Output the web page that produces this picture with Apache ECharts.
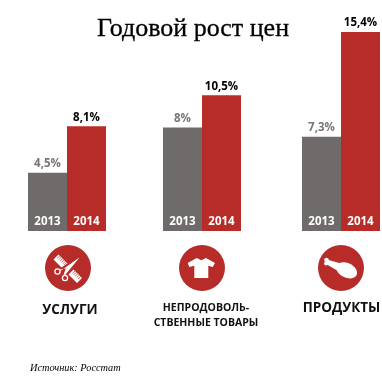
<!DOCTYPE html>
<html>
<head>
<meta charset="utf-8">
<style>html,body{margin:0;padding:0;background:#fff}#chart{width:382px;height:383px}</style>
<script src="https://cdn.jsdelivr.net/npm/echarts@6/dist/echarts.min.js"></script>
</head>
<body>
<div id="chart"></div>
<script>
var years = ['2013', '2014'];
var uslugi = [4.5, 8.1];
var tovary = [8, 10.5];
var produkty = [7.3, 15.4];
var labels = ['4,5%', '8,1%', '8%', '10,5%', '7,3%', '15,4%'];

var groups = [uslugi, tovary, produkty];
var lefts = [28, 163, 302];
var gray = '#6f6b6a';
var red = '#b72c28';
var font = '"Open Sans", sans-serif';

var chart = echarts.init(document.getElementById('chart'));

var grids = [], xAxes = [], yAxes = [], series = [];
groups.forEach(function (values, g) {
    grids.push({ left: lefts[g], top: 32, width: 78, height: 199 });
    xAxes.push({
        type: 'category',
        gridIndex: g,
        data: years,
        z: 5,
        axisLine: { show: false },
        axisTick: { show: false },
        axisLabel: { inside: true, color: '#fff', fontFamily: font, fontWeight: 'bold', fontSize: 11.5, margin: 3 }
    });
    yAxes.push({ type: 'value', gridIndex: g, min: 0, max: 15.4, show: false });
    series.push({
        type: 'bar',
        xAxisIndex: g,
        yAxisIndex: g,
        barWidth: 39,
        silent: true,
        data: values.map(function (v, i) {
            return {
                value: v,
                itemStyle: { color: i == 0 ? gray : red },
                label: {
                    show: true,
                    position: 'top',
                    distance: 3,
                    formatter: labels[g * 2 + i],
                    fontFamily: font,
                    fontSize: 11.5,
                    fontWeight: 'bold',
                    color: i == 0 ? '#7a7675' : '#000'
                }
            };
        })
    });
});

function badge(cx) {
    return { type: 'circle', shape: { cx: cx, cy: 268, r: 23 }, style: { fill: red } };
}
function caption(x, y, text, size) {
    return {
        type: 'text', x: x, y: y,
        style: { text: text, fill: '#111', font: 'bold ' + size + 'px ' + font, textAlign: 'center', textVerticalAlign: 'middle', lineHeight: 15 }
    };
}
function stroke(x1, y1, x2, y2, width, color) {
    return { type: 'line', shape: { x1: x1, y1: y1, x2: x2, y2: y2 }, style: { stroke: color, lineWidth: width } };
}
function poly(points) {
    return { type: 'polygon', shape: { points: points }, style: { fill: '#fff' } };
}
function ring(cx, cy) {
    return { type: 'circle', shape: { cx: cx, cy: cy, r: 2.6 }, style: { fill: 'none', stroke: '#fff', lineWidth: 1.3 } };
}

// расчёска: сплошная полоса, зубцы прорезаны красным
function comb(x1, y1, x2, y2) {
    var out = [stroke(x1, y1, x2, y2, 7, '#fff')];
    var n = Math.round(Math.hypot(x2 - x1, y2 - y1) / 2);
    for (var i = 1; i < n; i++) {
        var x = x1 + (x2 - x1) * i / n, y = y1 + (y2 - y1) * i / n;
        out.push(stroke(x, y, x + 2.6, y - 2.6, 0.7, red));
    }
    return out;
}

var scissors = [].concat(
    comb(56, 257, 65.5, 266.5),
    comb(71, 272, 79.5, 280.5),
    [
        stroke(79.5, 257.5, 61, 270, 3.4, red),
        stroke(79.5, 257.5, 64, 274, 3.4, red),
        poly([[79.5, 257.5], [66, 268.5], [60, 269.5], [60.5, 271]]),
        poly([[79.5, 257.5], [66.5, 267], [63.5, 274.5], [65.2, 275]]),
        ring(57.5, 271.5),
        ring(65, 278)
    ]
);

var shirt = poly([
    [196.7, 258], [201.3, 260.3], [206, 258], [215, 263], [212.7, 267], [208.3, 265.7],
    [208.3, 278], [194.3, 278], [194.3, 265.7], [189.3, 267], [187.7, 263]
]);

var drumstick = [
    { type: 'ellipse', x: 346.7, y: 270.3, rotation: -0.45, shape: { cx: 0, cy: 0, rx: 11, ry: 7.3 }, style: { fill: '#fff' } },
    poly([[327, 259.5], [341, 263.5], [338, 271], [326, 264]]),
    { type: 'circle', shape: { cx: 326.5, cy: 260, r: 2.3 }, style: { fill: '#fff' } },
    { type: 'circle', shape: { cx: 326, cy: 263.5, r: 1.9 }, style: { fill: '#fff' } }
];

var option = {
    animation: false,
    title: {
        text: 'Годовой рост цен',
        left: 188,
        top: 11,
        textAlign: 'center',
        textStyle: { fontFamily: '"Liberation Serif", serif', fontSize: 26, fontWeight: 'normal', color: '#000', textBorderColor: '#000', textBorderWidth: 0.3 }
    },
    grid: grids,
    xAxis: xAxes,
    yAxis: yAxes,
    series: series,
    graphic: [badge(68), badge(202), badge(341)].concat(scissors, [shirt], drumstick, [
        caption(70, 310, 'УСЛУГИ', 13.5),
        caption(206, 315.5, 'НЕПРОДОВОЛЬ-\nСТВЕННЫЕ ТОВАРЫ', 10.5),
        caption(341.5, 308, 'ПРОДУКТЫ', 13.5),
        {
            type: 'text', x: 30, y: 363,
            style: { text: 'Источник: Росстат', fill: '#000', font: 'italic 10.3px "Liberation Serif", serif' }
        }
    ])
};

option && chart.setOption(option);
window.addEventListener('resize', chart.resize);
</script>
</body>
</html>
